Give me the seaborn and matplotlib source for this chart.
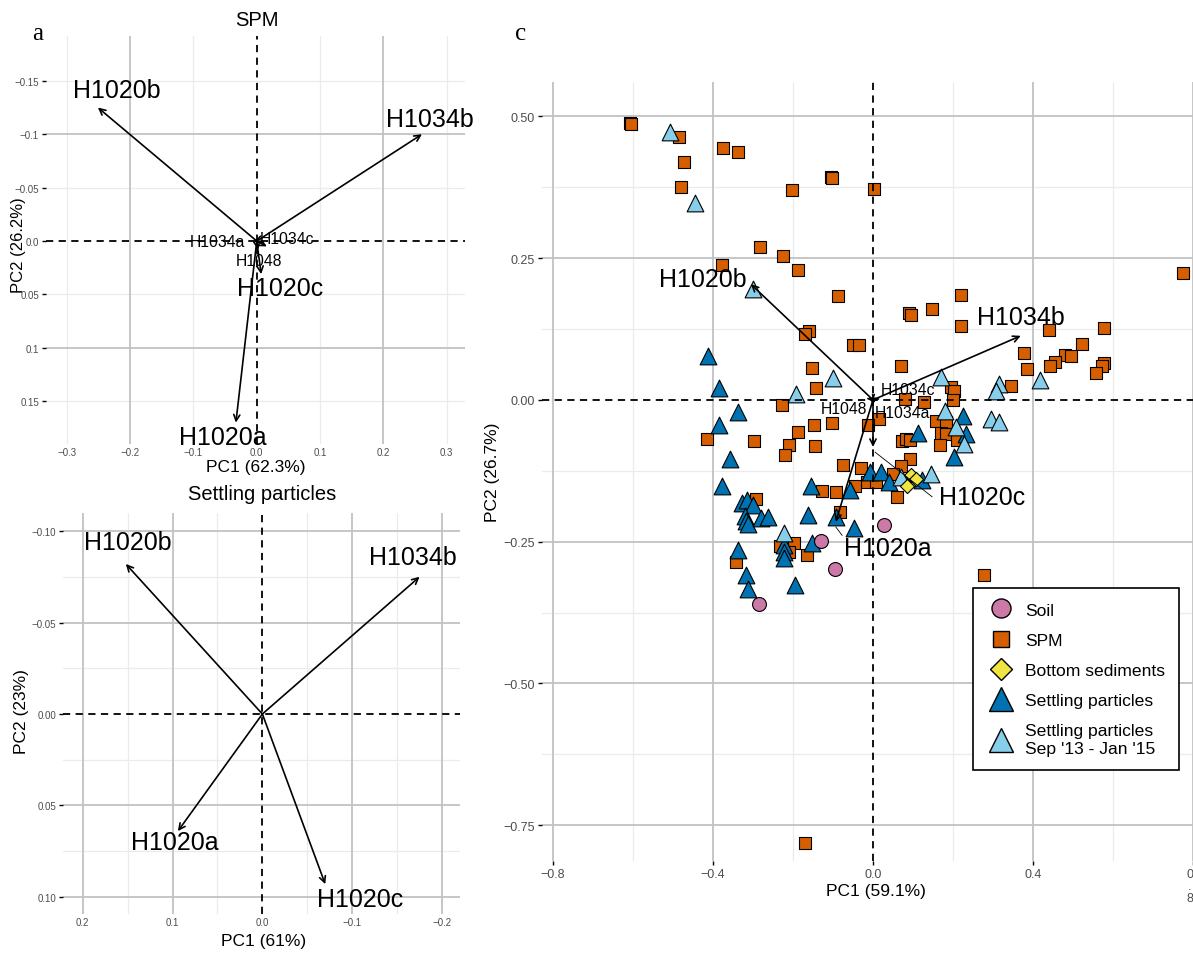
import numpy as np
import pandas as pd
import matplotlib
matplotlib.use("Agg")
import matplotlib.pyplot as plt
from matplotlib.lines import Line2D
import seaborn as sns

sns.set_theme(style="white")
plt.rcParams["font.family"] = ["Liberation Sans", "DejaVu Sans"]
plt.rcParams["axes.unicode_minus"] = True
plt.rcParams["text.color"] = "black"

# ---------------------------------------------------------------- data
# variable loadings, SPM-only PCA (panel a)
spm_vars = ["H1020b", "H1034b", "H1020a", "H1020c", "H1034c", "H1034a", "H1048"]
spm_load_pc1 = [-0.251, 0.261, -0.033, 0.007, 0.016, -0.004, 0.002]
spm_load_pc2 = [-0.125, -0.100, 0.170, 0.031, 0.005, 0.001, 0.008]

# variable loadings, settling-particle PCA (panel b)
sp_vars = ["H1020b", "H1034b", "H1020a", "H1020c"]
sp_load_pc1 = [0.152, -0.175, 0.094, -0.070]
sp_load_pc2 = [-0.082, -0.075, 0.064, 0.093]

# variable loadings, combined PCA (panel c)
all_vars = ["H1020b", "H1034b", "H1020a", "H1020c", "H1034c", "H1034a", "H1048"]
all_load_pc1 = [-0.305, 0.369, -0.093, 0.000, 0.012, 0.006, -0.006]
all_load_pc2 = [0.204, 0.113, -0.215, -0.083, 0.004, -0.005, -0.004]

# sample scores, combined PCA (panel c)
soil_pc1 = [-0.131, 0.028, -0.095, -0.285]
soil_pc2 = [-0.249, -0.220, -0.299, -0.359]

spm_pc1 = [-0.607, -0.605, -0.484, -0.375, -0.337, -0.471, -0.480, -0.106, -0.103, -0.202,
           0.003, -0.282, -0.224, -0.188, -0.376, -0.087, 0.775, 0.220, 0.090, 0.094,
           0.148, 0.220, 0.440, 0.578, 0.378, 0.523, 0.480, 0.494, 0.455, 0.442,
           0.578, 0.572, 0.558, 0.385, 0.344, 0.069, 0.194, 0.203, -0.161, -0.171,
           -0.051, -0.035, -0.152, -0.143, -0.227, 0.080, 0.128, 0.201, 0.015, -0.012,
           0.157, 0.183, 0.169, 0.182, 0.073, 0.082, 0.093, 0.167, 0.211, 0.093,
           -0.414, -0.296, -0.188, -0.147, -0.102, -0.210, -0.221, -0.145, -0.074, -0.031,
           0.069, -0.014, 0.008, 0.060, 0.050, -0.293, -0.127, -0.093, -0.046, -0.083,
           -0.198, -0.233, -0.210, -0.341, -0.166, 0.276, -0.169]
spm_pc2 = [0.489, 0.486, 0.464, 0.444, 0.437, 0.420, 0.376, 0.393, 0.391, 0.370,
           0.371, 0.269, 0.254, 0.229, 0.237, 0.184, 0.224, 0.185, 0.154, 0.150,
           0.160, 0.131, 0.123, 0.127, 0.083, 0.099, 0.079, 0.077, 0.066, 0.060,
           0.065, 0.060, 0.048, 0.055, 0.025, 0.060, 0.023, 0.016, 0.122, 0.116,
           0.096, 0.097, 0.056, 0.021, -0.009, 0.002, -0.003, -0.001, -0.034, -0.045,
           -0.038, -0.039, -0.058, -0.060, -0.072, -0.069, -0.070, -0.080, -0.070, -0.104,
           -0.069, -0.073, -0.056, -0.044, -0.041, -0.079, -0.097, -0.082, -0.115, -0.120,
           -0.116, -0.145, -0.145, -0.172, -0.130, -0.174, -0.161, -0.163, -0.152, -0.198,
           -0.252, -0.258, -0.268, -0.285, -0.273, -0.308, -0.782]

sed_pc1 = [0.094, 0.107, 0.086]
sed_pc2 = [-0.133, -0.139, -0.151]

settling_pc1 = [-0.411, -0.385, -0.338, -0.385, -0.356, -0.377, -0.328, -0.314, -0.300, -0.320,
                -0.318, -0.312, -0.281, -0.263, -0.154, -0.163, -0.058, -0.093, -0.048, -0.338,
                -0.222, -0.222, -0.222, -0.152, -0.316, -0.312, -0.195, -0.008, 0.019, 0.040,
                0.123, 0.113, 0.226, 0.232, 0.203]
settling_pc2 = [0.078, 0.021, -0.021, -0.045, -0.104, -0.151, -0.182, -0.177, -0.186, -0.204,
                -0.214, -0.218, -0.208, -0.207, -0.152, -0.203, -0.158, -0.207, -0.226, -0.264,
                -0.255, -0.268, -0.279, -0.252, -0.308, -0.334, -0.326, -0.127, -0.127, -0.145,
                -0.142, -0.058, -0.028, -0.060, -0.101]

settling_early_pc1 = [-0.507, -0.444, -0.299, 0.170, 0.418, 0.315, 0.308, -0.100, -0.193,
                      0.180, 0.294, 0.315, 0.207, 0.228, 0.069, 0.144, -0.223]
settling_early_pc2 = [0.472, 0.348, 0.195, 0.040, 0.035, 0.028, 0.016, 0.039, 0.011,
                      -0.019, -0.033, -0.039, -0.048, -0.077, -0.136, -0.130, -0.234]

groups = ["Soil", "SPM", "Bottom sediments", "Settling particles",
          "Settling particles\nSep '13 - Jan '15"]

# ---------------------------------------------------------------- styles
colors = {"Soil": "#CC79A7", "SPM": "#D55E00", "Bottom sediments": "#F0E442",
          "Settling particles": "#0072B2", groups[4]: "#87CEEB"}
markers = {"Soil": "o", "SPM": "s", "Bottom sediments": "D",
           "Settling particles": "^", groups[4]: "^"}
point_area = {"Soil": 100, "SPM": 84, "Bottom sediments": 52,
              "Settling particles": 145, groups[4]: 145}
legend_msize = {"Soil": 13.7, "SPM": 11.5, "Bottom sediments": 11.7,
                "Settling particles": 17.3, groups[4]: 17.3}

GRID_DARK = "#c2c2c2"
GRID_LIGHT = "#ebebeb"
TICK_COL = "#4d4d4d"
BIG, SMALL = 18, 11.3

FIG_W, FIG_H = 1193, 954


def fx(px):
    return px / FIG_W


def fy(py):
    return 1 - py / FIG_H


def box(l, t, r, b):
    return [fx(l), fy(b), (r - l) / FIG_W, (b - t) / FIG_H]


def style_axes(ax, xdark, xlight, ydark, ylight, tick_size, xtick_len):
    ax.set_facecolor("white")
    for s in ax.spines.values():
        s.set_visible(False)
    for v in xlight:
        ax.axvline(v, color=GRID_LIGHT, lw=0.9, zorder=0)
    for v in ylight:
        ax.axhline(v, color=GRID_LIGHT, lw=0.9, zorder=0)
    for v in xdark:
        ax.axvline(v, color=GRID_DARK, lw=1.3, zorder=0)
    for v in ydark:
        ax.axhline(v, color=GRID_DARK, lw=1.3, zorder=0)
    ax.axhline(0, color="black", lw=1.3, ls=(0, (4, 3)), zorder=3)
    ax.axvline(0, color="black", lw=1.3, ls=(0, (4, 3)), zorder=3)
    ax.tick_params(axis="y", length=3, width=1, color="black", pad=2,
                   labelsize=tick_size, labelcolor=TICK_COL, left=True)
    ax.tick_params(axis="x", length=xtick_len, width=1, color="black", pad=2,
                   labelsize=tick_size, labelcolor=TICK_COL, bottom=True)
    ax.grid(False)


def draw_arrows(ax, pc1, pc2, lw=1.2, scale=11):
    for x, y in zip(pc1, pc2):
        ax.annotate("", xy=(x, y), xytext=(0, 0),
                    arrowprops=dict(arrowstyle="->", lw=lw, color="black",
                                    shrinkA=0, shrinkB=0, mutation_scale=scale),
                    zorder=4)


fig = plt.figure(figsize=(11.93, 9.54), dpi=100)

# ---------------------------------------------------------------- panel a
ax_a = fig.add_axes(box(46, 37, 465, 445))
ax_a.set_xlim(-0.333, 0.329)
ax_a.set_ylim(0.190, -0.192)
style_axes(ax_a, [-0.2, 0.2], [-0.3, -0.1, 0.1, 0.3], [-0.1, 0.1],
           [-0.15, -0.05, 0.05, 0.15], 7, 0)
ax_a.set_xticks([-0.3, -0.2, -0.1, 0.0, 0.1, 0.2, 0.3])
ax_a.set_xticklabels(["\u22120.3", "\u22120.2", "\u22120.1", "0.0", "0.1", "0.2", "0.3"])
ax_a.set_yticks([-0.15, -0.1, -0.05, 0.0, 0.05, 0.1, 0.15])
ax_a.set_yticklabels(["\u22120.15", "\u22120.1", "\u22120.05", "0.0", "0.05", "0.1", "0.15"])
draw_arrows(ax_a, spm_load_pc1, spm_load_pc2)
a_label_pos = [(-0.221, -0.141), (0.274, -0.114), (-0.054, 0.183), (0.037, 0.044),
               (0.047, -0.002), (-0.062, 0.0), (0.004, 0.018)]
a_label_size = [BIG, BIG, BIG, BIG, SMALL, SMALL, SMALL]
for name, (x, y), fs in zip(spm_vars, a_label_pos, a_label_size):
    ax_a.text(x, y, name, fontsize=fs, ha="center", va="center", zorder=5)

fig.text(fx(257), fy(21), "SPM", fontsize=14.5, ha="center", va="center")
fig.text(fx(256), fy(468), "PC1 (62.3%)", fontsize=12.5, ha="center", va="center")
fig.text(fx(19), fy(245), "PC2 (26.2%)", fontsize=12, ha="center", va="center",
         rotation=90)
fig.text(fx(38), fy(34), "a", fontsize=18, ha="center", va="center",
         family=["Liberation Serif", "DejaVu Serif"])

# ---------------------------------------------------------------- panel b
ax_b = fig.add_axes(box(63.3, 514.3, 460, 915))
ax_b.set_xlim(0.2216, -0.220)
ax_b.set_ylim(0.1093, -0.1097)
style_axes(ax_b, [-0.2, -0.1, 0.1, 0.2], [-0.15, -0.05, 0.05, 0.15],
           [-0.1, -0.05, 0.05, 0.1], [-0.075, -0.025, 0.025, 0.075], 7, 0)
ax_b.set_xticks([0.2, 0.1, 0.0, -0.1, -0.2])
ax_b.set_xticklabels(["0.2", "0.1", "0.0", "\u22120.1", "\u22120.2"])
ax_b.set_yticks([-0.10, -0.05, 0.0, 0.05, 0.10])
ax_b.set_yticklabels(["\u22120.10", "\u22120.05", "0.00", "0.05", "0.10"])
draw_arrows(ax_b, sp_load_pc1, sp_load_pc2)
b_label_pos = [(0.150, -0.094), (-0.168, -0.0857), (0.097, 0.0702), (-0.109, 0.101)]
for name, (x, y) in zip(sp_vars, b_label_pos):
    ax_b.text(x, y, name, fontsize=BIG, ha="center", va="center", zorder=5)

fig.text(fx(262), fy(494), "Settling particles", fontsize=14.5, ha="center", va="center")
fig.text(fx(264), fy(942), "PC1 (61%)", fontsize=12.5, ha="center", va="center")
fig.text(fx(22), fy(712), "PC2 (23%)", fontsize=12.5, ha="center", va="center",
         rotation=90)

# ---------------------------------------------------------------- panel c
ax_c = fig.add_axes(box(541.5, 83, 1193.3, 862))
ax_c.set_xlim(-0.828, 0.8)
ax_c.set_ylim(-0.813, 0.5605)
style_axes(ax_c, [-0.8, -0.4, 0.4, 0.8], [-0.6, -0.2, 0.2, 0.6],
           [-0.75, -0.5, -0.25, 0.25, 0.5], [-0.625, -0.375, -0.125, 0.125, 0.375],
           9, 3)

scores = pd.concat([
    pd.DataFrame({"PC1": spm_pc1, "PC2": spm_pc2, "group": "SPM"}),
    pd.DataFrame({"PC1": settling_pc1, "PC2": settling_pc2, "group": "Settling particles"}),
    pd.DataFrame({"PC1": settling_early_pc1, "PC2": settling_early_pc2, "group": groups[4]}),
    pd.DataFrame({"PC1": soil_pc1, "PC2": soil_pc2, "group": "Soil"}),
    pd.DataFrame({"PC1": sed_pc1, "PC2": sed_pc2, "group": "Bottom sediments"}),
], ignore_index=True)

for g in ["SPM", "Settling particles", groups[4], "Soil", "Bottom sediments"]:
    sub = scores[scores["group"] == g]
    sns.scatterplot(data=sub, x="PC1", y="PC2", ax=ax_c, marker=markers[g],
                    color=colors[g], s=point_area[g], edgecolor="black",
                    linewidth=0.8, legend=False, zorder=2)

ax_c.set_xlabel("")
ax_c.set_ylabel("")
ax_c.set_xticks([-0.8, -0.4, 0.0, 0.4, 0.8])
ax_c.set_xticklabels(["\u22120.8", "\u22120.4", "0.0", "0.4", "0\n.\n8"])
last = ax_c.get_xticklabels()[-1]
last.set_horizontalalignment("right")
last.set_multialignment("center")
last.set_linespacing(1.0)
ax_c.set_yticks([-0.75, -0.5, -0.25, 0.0, 0.25, 0.5])
ax_c.set_yticklabels(["\u22120.75", "\u22120.50", "\u22120.25", "0.00", "0.25", "0.50"])

draw_arrows(ax_c, all_load_pc1, all_load_pc2)
c_label_pos = [(-0.4245, 0.213), (0.369, 0.1455), (0.037, -0.261), (0.2735, -0.171),
               (0.088, 0.018), (0.073, -0.022), (-0.0725, -0.016)]
c_label_size = [BIG, BIG, BIG, BIG, SMALL, SMALL, SMALL]
for name, (x, y), fs in zip(all_vars, c_label_pos, c_label_size):
    ax_c.text(x, y, name, fontsize=fs, ha="center", va="center", zorder=5)
# leader segments for the repelled labels
ax_c.plot([0.005, 0.148], [-0.092, -0.171], color="black", lw=0.6, zorder=4)
ax_c.plot([-0.093, -0.077], [-0.224, -0.239], color="black", lw=0.6, zorder=4)

handles = [Line2D([], [], ls="none", marker=markers[g], markersize=legend_msize[g],
                  markerfacecolor=colors[g], markeredgecolor="black",
                  markeredgewidth=1.0) for g in groups]
leg = ax_c.legend(handles, groups, loc="upper left", bbox_to_anchor=(0.662, 0.350),
                  frameon=True, fancybox=False, edgecolor="black", framealpha=1,
                  fontsize=12.6, borderpad=0.8, handlelength=1.6, handletextpad=0.57,
                  labelspacing=0.85, borderaxespad=0)
for t in leg.get_texts():
    t.set_linespacing(1.3)
leg.get_frame().set_linewidth(1.2)
leg.set_zorder(6)

fig.text(fx(876), fy(892), "PC1 (59.1%)", fontsize=12.5, ha="center", va="center")
fig.text(fx(493), fy(472), "PC2 (26.7%)", fontsize=12.5, ha="center", va="center",
         rotation=90)
fig.text(fx(521), fy(34), "c", fontsize=18, ha="center", va="center",
         family=["Liberation Serif", "DejaVu Serif"])

fig.savefig("out.png", dpi=100, facecolor="white")
